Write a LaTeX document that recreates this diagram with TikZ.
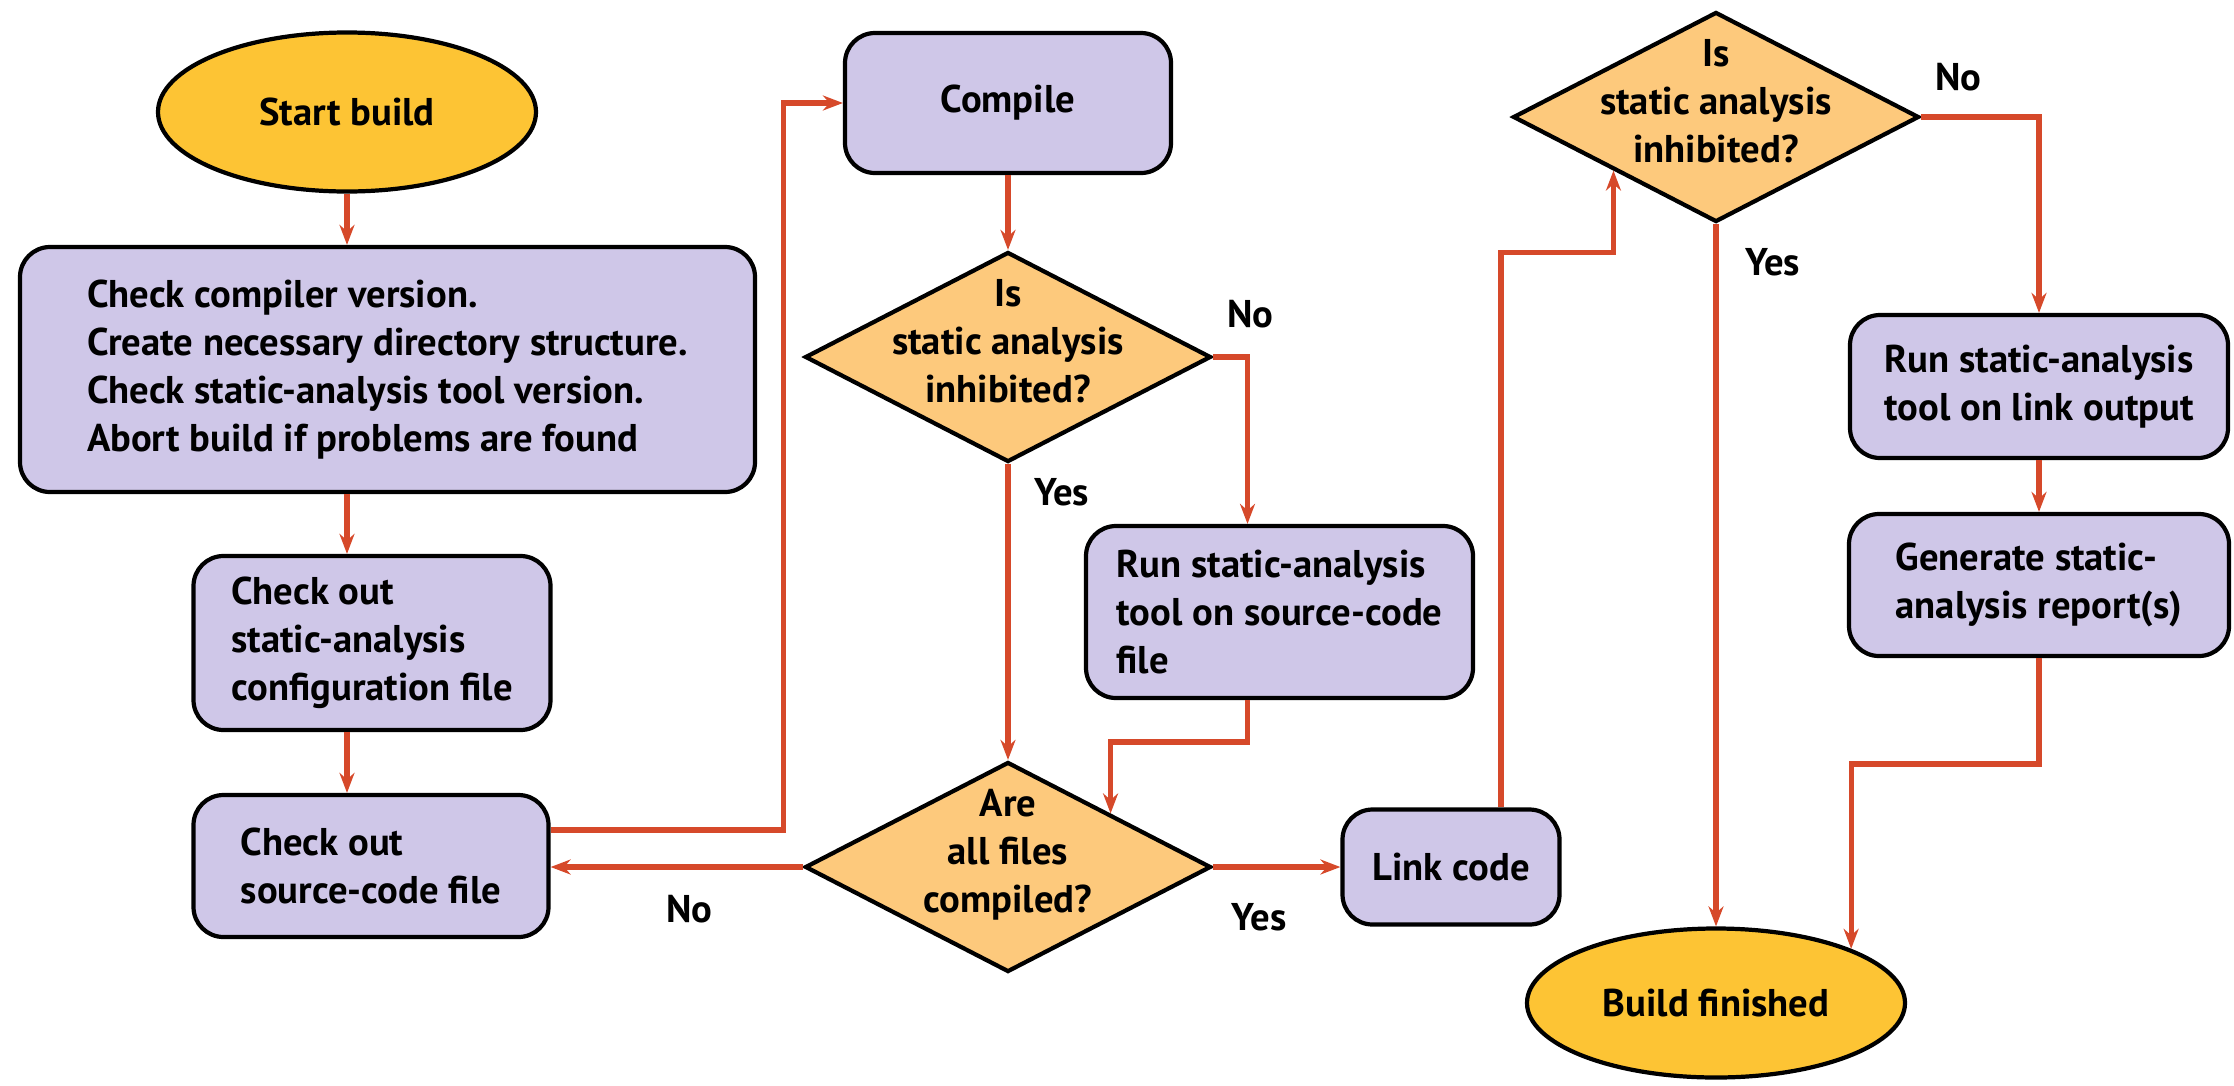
\documentclass[tikz,border=0pt]{standalone}
\usepackage{fontspec}
\setmainfont{PT Sans}
\usetikzlibrary{shapes.geometric, arrows.meta, positioning}

\definecolor{boxlilac}{RGB}{207,199,232}
\definecolor{askorange}{RGB}{253,201,124}
\definecolor{endgold}{RGB}{253,196,52}
\definecolor{flowred}{RGB}{214,73,42}

\begin{document}
\begin{tikzpicture}[thick, >={Stealth[length=2mm,width=1.5mm]},
        font=\fontsize{11pt}{13.6pt}\selectfont\bfseries,
        process/.style={draw, rectangle, rounded corners=3mm, fill=boxlilac, line width=1.2pt, align=left, inner sep=0pt},
        decision/.style={draw, diamond, fill=askorange, line width=1.2pt, align=center, inner sep=-2.5mm, text depth=3.2mm, aspect=1.93, minimum width=4.06cm, minimum height=2.1cm},
        terminal/.style={draw, ellipse, fill=endgold, line width=1.2pt, inner sep=0pt},
        flow/.style={->, draw=flowred, line width=1.5pt}]
        \useasboundingbox (0,0) rectangle (22.34,-10.85);

        % Nodes
        \node (start) [terminal, minimum width=3.78cm, minimum height=1.59cm] at (3.47,-1.12) {Start build};
        \node (checks) [process, minimum width=7.35cm, minimum height=2.45cm] at (3.875,-3.695) {Check compiler version.\\Create necessary directory structure.\\Check static-analysis tool version.\\Abort build if problems are found};
        \node (config) [process, minimum width=3.57cm, minimum height=1.74cm] at (3.72,-6.43) {Check out\\static-analysis\\configuration file};
        \node (source) [process, minimum width=3.55cm, minimum height=1.42cm] at (3.71,-8.66) {Check out\\source-code file};
        \node (compile) [process, align=center, minimum width=3.26cm, minimum height=1.4cm] at (10.08,-1.03) {Compile};
        \node (inhibit) [decision, below of=compile, node distance=2.54cm] {Is\\static analysis\\inhibited?};
        \node (runsrc) [process, minimum width=3.87cm, minimum height=1.72cm] at (12.795,-6.12) {Run static-analysis\\tool on source-code\\file};
        \node (allfiles) [decision, below of=inhibit, node distance=5.1cm] {Are\\all files\\compiled?};
        \node (link) [process, align=center, minimum width=2.17cm, minimum height=1.15cm, right of=allfiles, node distance=4.43cm] {Link code};
        \node (inhibitlink) [decision] at (17.16,-1.17) {Is\\static analysis\\inhibited?};
        \node (runlink) [process, minimum width=3.78cm, minimum height=1.43cm] at (20.39,-3.865) {Run static-analysis\\tool on link output};
        \node (report) [process, minimum width=3.8cm, minimum height=1.42cm, below of=runlink, node distance=1.985cm] {Generate static-\\analysis report(s)};
        \node (finished) [terminal, minimum width=3.78cm, minimum height=1.49cm, below of=inhibitlink, node distance=8.86cm] {Build finished};

        % Edges
        \draw[flow] (start) -- (start |- checks.north);
        \draw[flow] (checks.south -| start) -- (start |- config.north);
        \draw[flow] (config.south -| start) -- (start |- source.north);
        \draw[flow] ([yshift=3.6mm]source.east) -- ++(2.33,0) |- (compile.west);
        \draw[flow] (compile) -- (inhibit);
        \draw[flow] (inhibit.east) node[above right, yshift=1.5mm] {No} -| ([xshift=-3.2mm]runsrc.north);
        \draw[flow] (inhibit.south) node[below right, xshift=1.2mm, yshift=0mm] {Yes} -- (allfiles.north);
        \draw[flow] ([xshift=-3.2mm]runsrc.south) -- ++(0,-0.42) -| (allfiles.north east);
        \draw[flow] (allfiles.west) -- node[below=1.4mm, pos=.45] {No} (allfiles.west -| source.east);
        \draw[flow] (allfiles.east) -- node[below=2.2mm, pos=.36] {Yes} (link.west);
        \draw[flow] ([xshift=5mm]link.north) -- ++(0,5.55) -| (inhibitlink.south west);
        \draw[flow] (inhibitlink.east) node[above right, yshift=1.2mm] {No} -| (runlink.north);
        \draw[flow] (inhibitlink.south) node[below right, xshift=1.5mm, yshift=-1mm] {Yes} -- (finished.north);
        \draw[flow] (runlink) -- (report);
        \draw[flow] (report.south) -- ++(0,-1.06) -| (finished.north east);
    \end{tikzpicture}
\end{document}
